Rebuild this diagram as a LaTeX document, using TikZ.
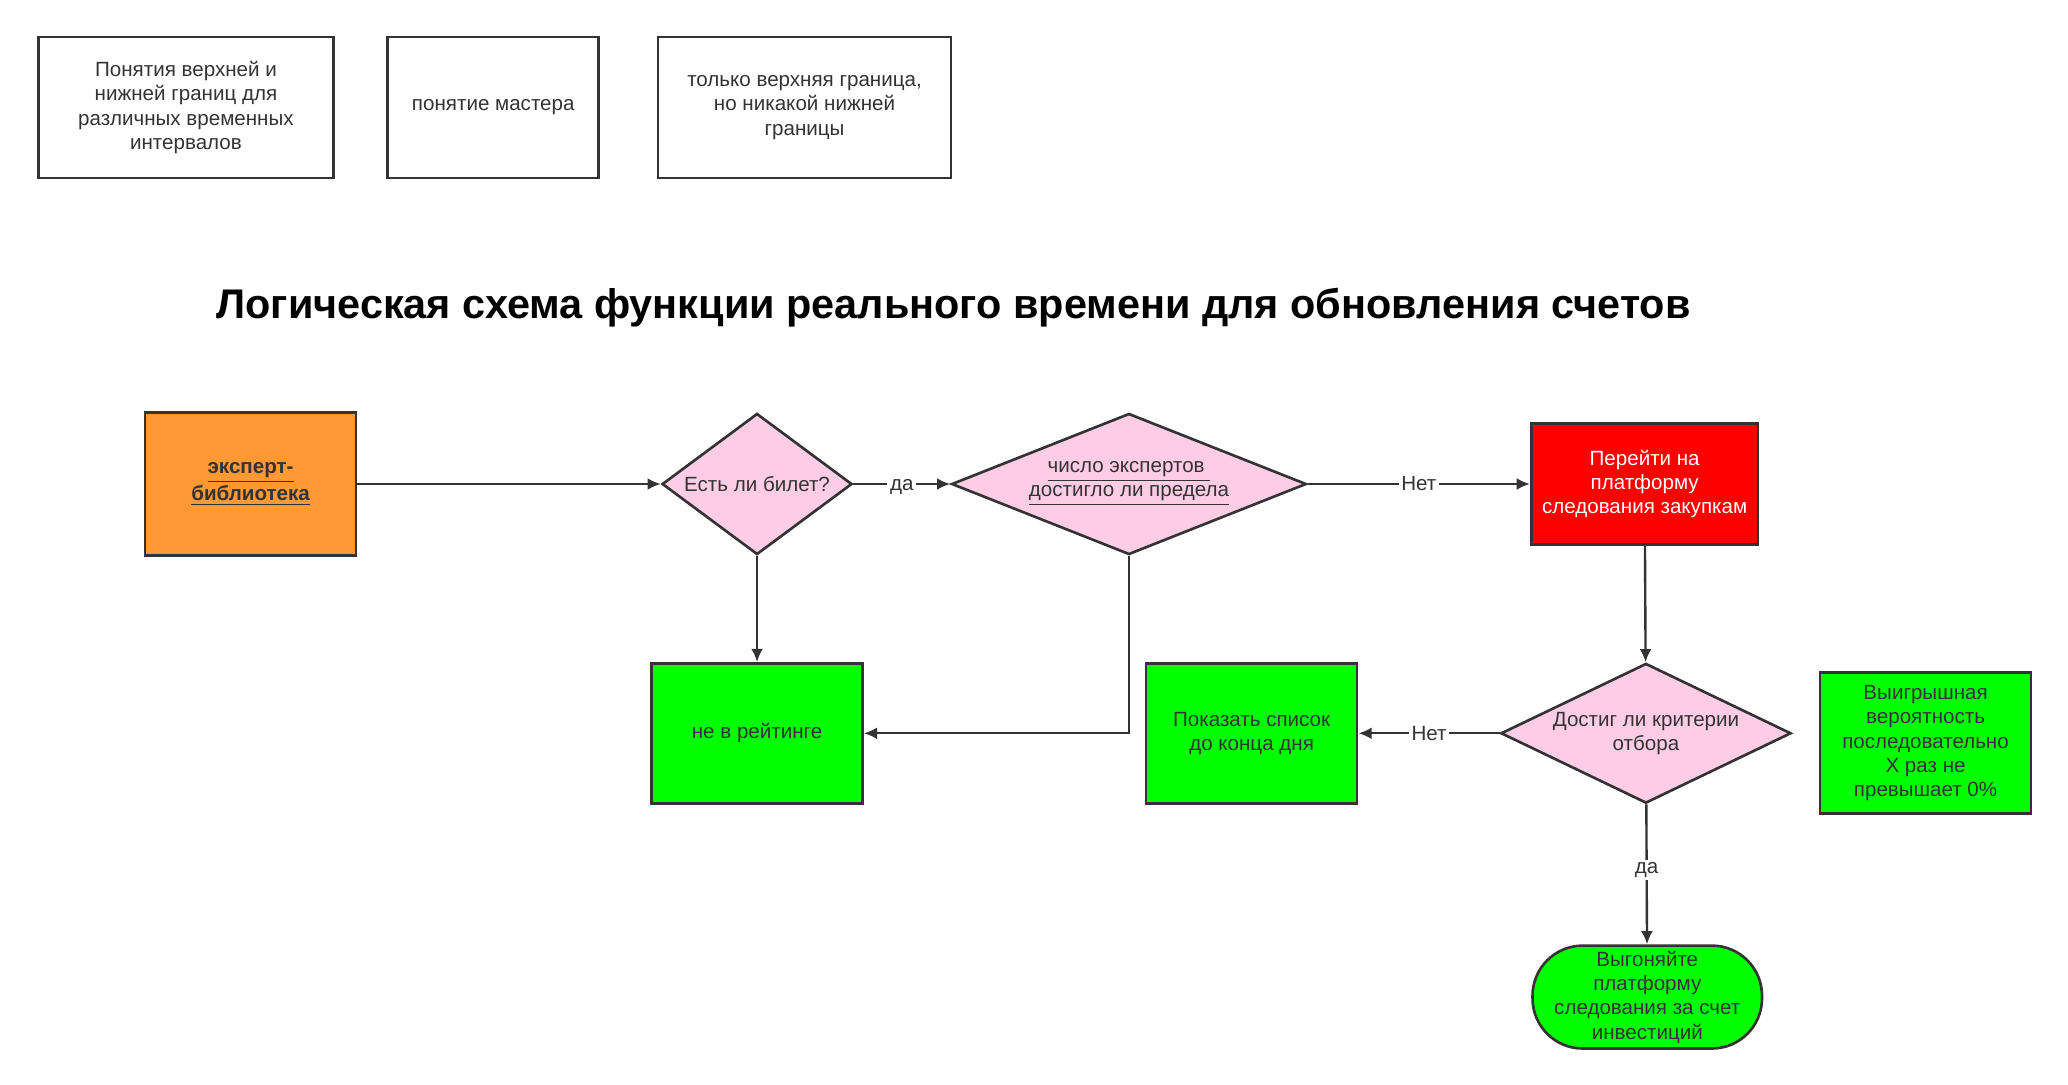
\documentclass[tikz,border=0pt]{standalone}
\usepackage{fontspec}
\setmainfont{Liberation Sans}
\usetikzlibrary{shapes.geometric,arrows.meta}
\definecolor{pinkd}{HTML}{FFCCE6}
\definecolor{orng}{HTML}{FF9933}
\definecolor{lin}{HTML}{333333}
\tikzset{
  box/.style={draw=lin,line width=1pt,align=center,font=\fontsize{7.8}{9.2}\selectfont,inner sep=1pt,text=lin},
  dia/.style={box,diamond,fill=pinkd,inner sep=0pt},
  arr/.style={draw=lin,line width=0.9pt,-{Latex[length=5pt,width=4.5pt]}},
  lbl/.style={fill=white,font=\fontsize{7.8}{9}\selectfont,inner sep=1pt,text=lin}
}
\begin{document}
\begin{tikzpicture}[x=0.5pt,y=-0.5pt]
\useasboundingbox (0,0) rectangle (1568,822);
\node[box,minimum width=112pt,minimum height=53.5pt] (n1) at (141,81.5) {Понятия верхней и\\нижней границ для\\различных временных\\интервалов};
\node[box,minimum width=80pt,minimum height=53.5pt] (n2) at (374,81.5) {понятие мастера};
\node[box,minimum width=111pt,minimum height=53.5pt] (n3) at (610,81.5) {только верхняя граница,\\но никакой нижней\\границы};
\node[font=\fontsize{15.7}{18}\selectfont\bfseries] (t) at (723,233) {Логическая схема функции реального времени для обновления счетов};
\node[box,fill=orng,minimum width=80pt,minimum height=54pt] (lib) at (190,367) {\textbf{\underline{эксперт-}}\\\textbf{\underline{библиотека}}};
\node[dia,shape aspect=1.35,minimum width=72pt,minimum height=53.5pt] (d1) at (574,367) {Есть ли билет?};
\node[dia,shape aspect=2.5,minimum width=134.5pt,minimum height=53.5pt] (d2) at (856,367) {\underline{число экспертов }\\\underline{достигло ли предела}};
\node[box,fill=red,text=white,minimum width=86pt,minimum height=46pt] (red) at (1247,367) {Перейти на\\платформу\\следования закупкам};
\node[box,fill=green,minimum width=80pt,minimum height=53pt] (g1) at (574,556) {не в рейтинге};
\node[box,fill=green,minimum width=80pt,minimum height=53pt] (g2) at (949,556) {Показать список\\до конца дня};
\node[dia,shape aspect=2.08,minimum width=110pt,minimum height=53pt] (d3) at (1248,556) {Достиг ли критерии\\отбора};
\node[box,fill=green,minimum width=80pt,minimum height=53.5pt] (g3) at (1460,563.5) {Выигрышная\\вероятность\\последовательно\\X раз не\\превышает 0\%};
\node[box,fill=green,rounded corners=19pt,minimum width=87pt,minimum height=39pt] (term) at (1249,756) {Выгоняйте\\платформу\\следования за счет\\инвестиций};
\draw[arr] (lib) -- (d1);
\draw[arr] (d1) -- node[lbl,pos=0.5,yshift=-1pt] {да} (d2);
\draw[arr] (d2) -- node[lbl] {Нет} (red);
\draw[arr] (d1) -- (g1);
\draw[arr] (d2.south) |- (g1.east);
\draw[arr] (red) -- (d3);
\draw[arr] (d3) -- node[lbl] {Нет} (g2);
\draw[arr] (d3) -- node[lbl,pos=0.47] {да} (term);
\end{tikzpicture}
\end{document}
